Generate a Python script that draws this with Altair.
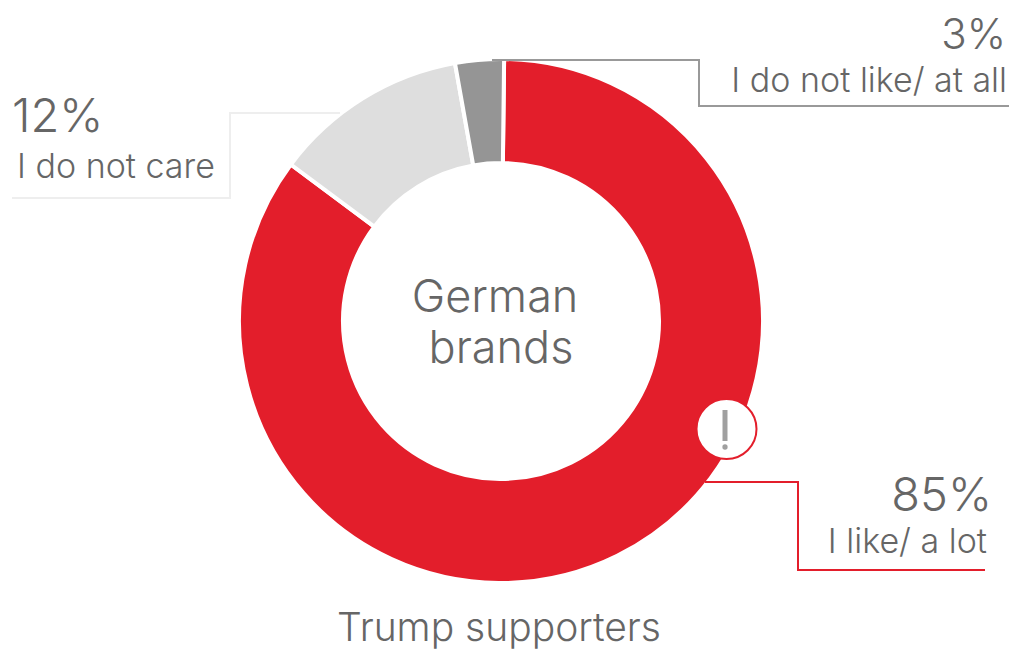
import altair as alt
import pandas as pd

categories = ["I like/ a lot", "I do not care", "I do not like/ at all"]
values = [85, 12, 3]
colors = ["#e31e2b", "#dedede", "#959595"]
pct_labels = ["85%", "12%", "3%"]
center_lines = ["German", "brands"]
footer = "Trump supporters"

FONT = "Inter"
TEXT = "#666666"
M = 8

def X(v):
    return alt.value(v - M)

def Y(v):
    return alt.value(v - M)

df = pd.DataFrame({"cat": categories, "val": values, "idx": [0, 1, 2]})

donut = alt.Chart(df).mark_arc(innerRadius=158, outerRadius=262, stroke="white", strokeWidth=4).encode(
    theta=alt.Theta("val:Q", stack=True, scale=alt.Scale(domain=[0, 100], range=[0.012, 6.295])),
    order=alt.Order("idx:Q"),
    color=alt.Color("cat:N", scale=alt.Scale(domain=categories, range=colors), legend=None),
    x=X(501), y=Y(321),
)

def hline(x1, x2, y, c):
    return alt.Chart().mark_rule(color=c, strokeWidth=2).encode(x=X(x1), x2=X(x2), y=Y(y))

def vline(x, y1, y2, c):
    return alt.Chart().mark_rule(color=c, strokeWidth=2).encode(x=X(x), y=Y(y1), y2=Y(y2))

def txt(s, x, y, size, align):
    return alt.Chart(pd.DataFrame({"t": [s]})).mark_text(
        font=FONT, fontWeight=300, fontSize=size, align=align, baseline="alphabetic", color=TEXT
    ).encode(text="t:N", x=X(x), y=Y(y))

LG, LL, LR = "#999999", "#eeeeee", "#e31e2b"
leaders = [
    hline(492, 699, 60, LG), vline(699, 59, 107, LG), hline(698, 1015, 106, LG),
    hline(230, 340, 113, LL), vline(230, 112, 199, LL), hline(12, 231, 198, LL),
    hline(705, 798, 482, LR), vline(798, 481, 571, LR), hline(797, 985, 570, LR),
]

badge = alt.Chart().mark_point(filled=False, fill="white", fillOpacity=1, stroke=LR, strokeWidth=2, size=3600, shape="circle", opacity=1).encode(
    x=X(726.5), y=Y(429))
bang_bar = alt.Chart().mark_rule(color="#a0a0a0", strokeWidth=5).encode(x=X(725), y=Y(410), y2=Y(441))
bang_dot = alt.Chart().mark_point(filled=True, color="#a0a0a0", size=28, opacity=1).encode(x=X(725), y=Y(447))

texts = [
    txt(pct_labels[1], 12, 132, 47, "left"),
    txt(categories[1], 17, 178, 34, "left"),
    txt(pct_labels[2], 1006, 49, 42, "right"),
    txt(categories[2], 1007, 92, 34, "right"),
    txt(pct_labels[0], 992, 511, 47, "right"),
    txt(categories[0], 987, 553, 34, "right"),
    txt(center_lines[0], 495, 312, 45, "center"),
    txt(center_lines[1], 501, 363, 45, "center"),
    txt(footer, 499, 641, 39, "center"),
]

chart = alt.layer(donut, *leaders, badge, bang_bar, bang_dot, *texts).properties(
    width=1001, height=642, padding=0,
    autosize=alt.AutoSizeParams(type="none"),
).configure_view(stroke=None)

chart.save("out.html", embed_options={"renderer": "svg", "actions": False})
